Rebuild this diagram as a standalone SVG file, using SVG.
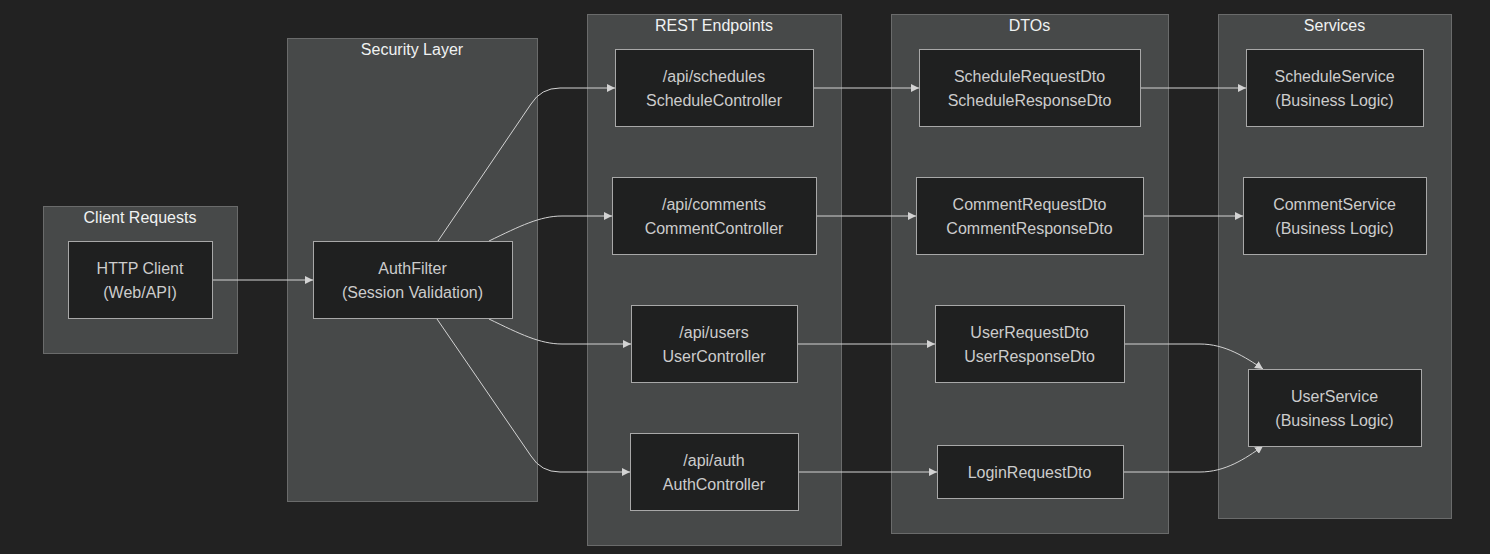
<svg xmlns="http://www.w3.org/2000/svg" width="1490" height="554" viewBox="0 0 1490 554">
  <style>
    .bg { fill: #222222; }
    .cluster rect { fill: #474949; stroke: #6a6b6b; stroke-width: 1; }
    .cluster text { fill: #f0f2f2; font-family: "Liberation Sans", Arial, sans-serif; font-size: 16px; text-anchor: middle; }
    .node rect { fill: #1f2020; stroke: #a8a8a8; stroke-width: 1; }
    .node text { fill: #cccccc; font-family: "Liberation Sans", Arial, sans-serif; font-size: 16px; text-anchor: middle; }
    .edge { fill: none; stroke: #d3d3d3; stroke-width: 1; marker-end: url(#arrow); }
  </style>
  <defs>
    <marker id="arrow" viewBox="0 0 10 10" refX="10" refY="5" markerWidth="8" markerHeight="8" markerUnits="userSpaceOnUse" orient="auto">
      <path d="M0,0 L10,5 L0,10 z" fill="#d3d3d3"/>
    </marker>
  </defs>

  <rect class="bg" x="0" y="0" width="1490" height="554"/>

  <!-- subgraph frames -->
  <g id="clusters">
    <g class="cluster" id="cluster-client">
      <rect x="43.5" y="206.5" width="194" height="147"/>
      <text x="140" y="223">Client Requests</text>
    </g>
    <g class="cluster" id="cluster-security">
      <rect x="287.5" y="38.5" width="250" height="463"/>
      <text x="412" y="55">Security Layer</text>
    </g>
    <g class="cluster" id="cluster-rest">
      <rect x="587.5" y="14.5" width="254" height="531"/>
      <text x="714" y="31">REST Endpoints</text>
    </g>
    <g class="cluster" id="cluster-dtos">
      <rect x="891.5" y="14.5" width="277" height="519"/>
      <text x="1029.5" y="31">DTOs</text>
    </g>
    <g class="cluster" id="cluster-services">
      <rect x="1218.5" y="14.5" width="233" height="504"/>
      <text x="1334.5" y="31">Services</text>
    </g>
  </g>

  <!-- connectors -->
  <g id="connectors">
    <path class="edge" d="M212,280 L313,280"/>
    <path class="edge" d="M438,241 L531,104 Q541,88 560,88 L615,88"/>
    <path class="edge" d="M489,241 C520,226 540,216 562,216 L612,216"/>
    <path class="edge" d="M489,319 C520,334 540,344 562,344 L631,344"/>
    <path class="edge" d="M437,319 L531,456 Q541,472 560,472 L630,472"/>
    <path class="edge" d="M813,88 L919,88"/>
    <path class="edge" d="M816,216 L916,216"/>
    <path class="edge" d="M797,344 L935,344"/>
    <path class="edge" d="M798,472 L937,472"/>
    <path class="edge" d="M1140,88 L1246,88"/>
    <path class="edge" d="M1143,216 L1243,216"/>
    <path class="edge" d="M1124,344 L1200,344 C1225,344 1245,357 1263,369"/>
    <path class="edge" d="M1123,472 L1200,472 C1225,472 1245,459 1263,446"/>
  </g>

  <!-- nodes -->
  <g id="nodes">
    <g class="node" id="http-client">
      <rect x="68.5" y="241.5" width="144" height="77"/>
      <text x="140" y="274">HTTP Client</text>
      <text x="140" y="298">(Web/API)</text>
    </g>
    <g class="node" id="auth-filter">
      <rect x="313.5" y="241.5" width="199" height="77"/>
      <text x="412.5" y="274">AuthFilter</text>
      <text x="412.5" y="298">(Session Validation)</text>
    </g>
    <g class="node" id="schedule-controller">
      <rect x="615.5" y="49.5" width="198" height="77"/>
      <text x="714" y="82">/api/schedules</text>
      <text x="714" y="106">ScheduleController</text>
    </g>
    <g class="node" id="comment-controller">
      <rect x="612.5" y="177.5" width="204" height="77"/>
      <text x="714" y="210">/api/comments</text>
      <text x="714" y="234">CommentController</text>
    </g>
    <g class="node" id="user-controller">
      <rect x="631.5" y="305.5" width="166" height="77"/>
      <text x="714" y="338">/api/users</text>
      <text x="714" y="362">UserController</text>
    </g>
    <g class="node" id="auth-controller">
      <rect x="630.5" y="433.5" width="168" height="77"/>
      <text x="714" y="466">/api/auth</text>
      <text x="714" y="490">AuthController</text>
    </g>
    <g class="node" id="schedule-dto">
      <rect x="919.5" y="49.5" width="221" height="77"/>
      <text x="1029.5" y="82">ScheduleRequestDto</text>
      <text x="1029.5" y="106">ScheduleResponseDto</text>
    </g>
    <g class="node" id="comment-dto">
      <rect x="916.5" y="177.5" width="227" height="77"/>
      <text x="1029.5" y="210">CommentRequestDto</text>
      <text x="1029.5" y="234">CommentResponseDto</text>
    </g>
    <g class="node" id="user-dto">
      <rect x="935.5" y="305.5" width="189" height="77"/>
      <text x="1029.5" y="338">UserRequestDto</text>
      <text x="1029.5" y="362">UserResponseDto</text>
    </g>
    <g class="node" id="login-dto">
      <rect x="937.5" y="445.5" width="186" height="53"/>
      <text x="1029.5" y="478">LoginRequestDto</text>
    </g>
    <g class="node" id="schedule-service">
      <rect x="1246.5" y="49.5" width="177" height="77"/>
      <text x="1334.5" y="82">ScheduleService</text>
      <text x="1334.5" y="106">(Business Logic)</text>
    </g>
    <g class="node" id="comment-service">
      <rect x="1243.5" y="177.5" width="183" height="77"/>
      <text x="1334.5" y="210">CommentService</text>
      <text x="1334.5" y="234">(Business Logic)</text>
    </g>
    <g class="node" id="user-service">
      <rect x="1248.5" y="369.5" width="173" height="77"/>
      <text x="1334.5" y="402">UserService</text>
      <text x="1334.5" y="426">(Business Logic)</text>
    </g>
  </g>
</svg>
